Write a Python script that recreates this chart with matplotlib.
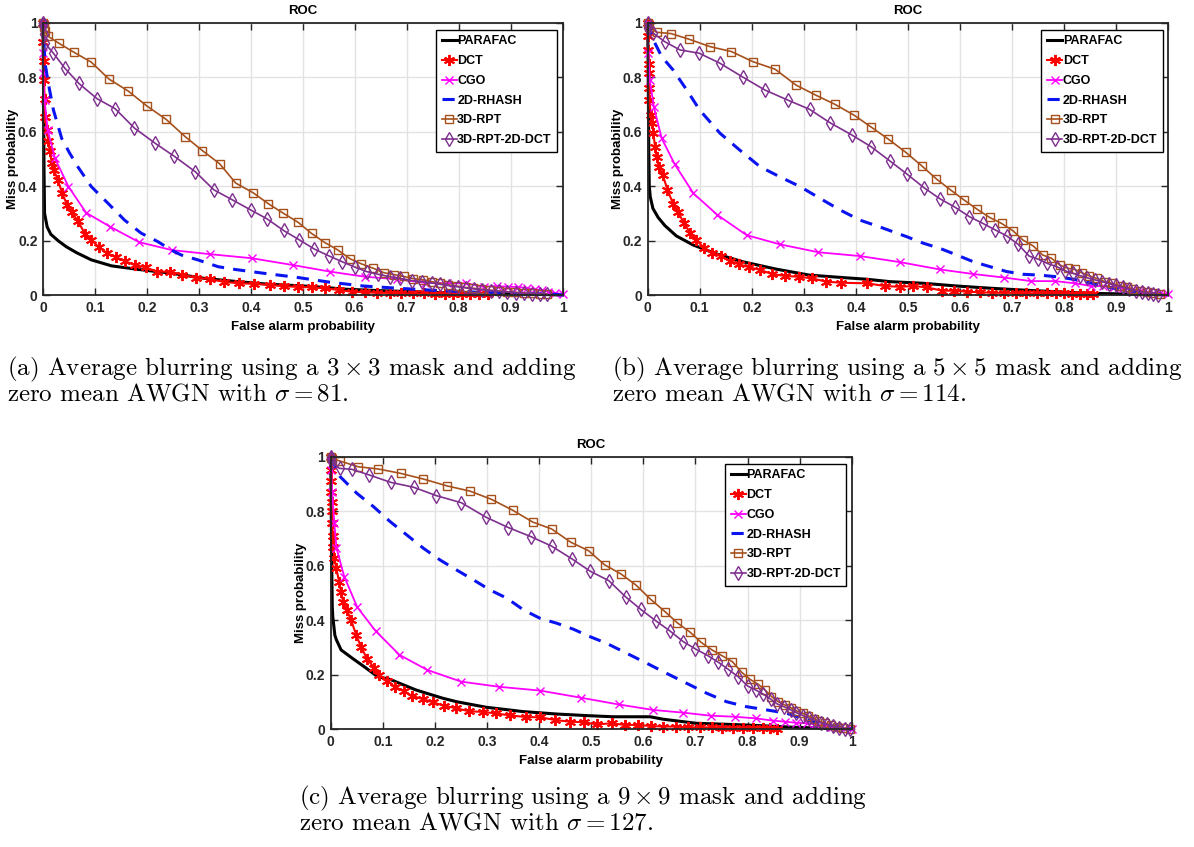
import matplotlib
matplotlib.use("Agg")
import matplotlib.pyplot as plt
from matplotlib.ticker import FixedLocator, FuncFormatter

plt.rcParams.update({
    "font.family": "Liberation Sans",
    "font.weight": "bold",
    "mathtext.fontset": "cm",
})

labels = ["PARAFAC", "DCT", "CGO", "2D-RHASH", "3D-RPT", "3D-RPT-2D-DCT"]
captions = [
    "(a) Average blurring using a $3\\times3$ mask and adding\nzero mean AWGN with $\\sigma=81$.",
    "(b) Average blurring using a $5\\times5$ mask and adding\nzero mean AWGN with $\\sigma=114$.",
    "(c) Average blurring using a $9\\times9$ mask and adding\nzero mean AWGN with $\\sigma=127$.",
]

# ---------------- panel (a): 3x3 mask, sigma = 81 ----------------
a_parafac = [(0, 1.0), (0.001, 0.75), (0.002, 0.45), (0.003, 0.30), (0.008, 0.25), (0.015, 0.223),
             (0.030, 0.198), (0.045, 0.177), (0.065, 0.155), (0.093, 0.129), (0.132, 0.107),
             (0.183, 0.094), (0.247, 0.080), (0.311, 0.061), (0.375, 0.049), (0.431, 0.040),
             (0.492, 0.034), (0.520, 0.031), (0.585, 0.021), (0.649, 0.016), (0.713, 0.012),
             (0.777, 0.008), (0.841, 0.006), (0.905, 0.004), (0.960, 0.002), (1.0, 0.0)]
a_dct = [(0.000, 1.000), (0.000, 0.930), (0.001, 0.860), (0.002, 0.790), (0.003, 0.720),
         (0.004, 0.655), (0.007, 0.606), (0.010, 0.565), (0.013, 0.528), (0.017, 0.484),
         (0.021, 0.459), (0.029, 0.421), (0.037, 0.373), (0.047, 0.329), (0.056, 0.303),
         (0.067, 0.272), (0.081, 0.224), (0.093, 0.202), (0.108, 0.175), (0.124, 0.153),
         (0.141, 0.138), (0.158, 0.124), (0.177, 0.110), (0.198, 0.101), (0.219, 0.086),
         (0.244, 0.085), (0.268, 0.075), (0.294, 0.063), (0.321, 0.059), (0.348, 0.048),
         (0.377, 0.043), (0.407, 0.041), (0.437, 0.037), (0.464, 0.032), (0.490, 0.030),
         (0.517, 0.028), (0.543, 0.025), (0.570, 0.018), (0.594, 0.012), (0.620, 0.010),
         (0.642, 0.008), (0.668, 0.008), (0.690, 0.006), (0.713, 0.006), (0.734, 0.006),
         (0.755, 0.004), (0.774, 0.004), (0.789, 0.004), (0.806, 0.004), (0.822, 0.004),
         (0.840, 0.004), (0.857, 0.004)]
a_cgo = [(0.000, 1.000), (0.000, 0.890), (0.000, 0.814), (0.003, 0.716), (0.009, 0.606),
         (0.023, 0.502), (0.049, 0.398), (0.083, 0.302), (0.129, 0.251), (0.185, 0.194),
         (0.248, 0.165), (0.321, 0.150), (0.402, 0.135), (0.481, 0.110), (0.552, 0.086),
         (0.620, 0.067), (0.682, 0.058), (0.735, 0.045), (0.777, 0.043), (0.815, 0.043),
         (0.848, 0.030), (0.873, 0.033), (0.896, 0.030), (0.915, 0.030), (0.931, 0.025),
         (0.947, 0.021), (0.960, 0.018), (0.973, 0.012), (0.986, 0.008), (1.000, 0.003)]
a_rhash = [(0, 1.0), (0.001, 0.95), (0.004, 0.85), (0.010, 0.78), (0.020, 0.68), (0.036, 0.575),
           (0.051, 0.522), (0.067, 0.471), (0.093, 0.398), (0.125, 0.337), (0.157, 0.275),
           (0.189, 0.227), (0.221, 0.196), (0.247, 0.165), (0.266, 0.147), (0.298, 0.129),
           (0.337, 0.104), (0.369, 0.094), (0.424, 0.080), (0.488, 0.065), (0.552, 0.047),
           (0.617, 0.033), (0.681, 0.025), (0.745, 0.018), (0.809, 0.012), (0.870, 0.008),
           (0.930, 0.005), (0.980, 0.003), (1.0, 0.0)]
a_rpt = [(0.000, 1.000), (0.001, 0.985), (0.003, 0.970), (0.009, 0.951), (0.031, 0.924),
         (0.059, 0.892), (0.093, 0.855), (0.127, 0.793), (0.164, 0.749), (0.200, 0.694),
         (0.237, 0.645), (0.274, 0.581), (0.307, 0.530), (0.340, 0.482), (0.371, 0.411),
         (0.404, 0.376), (0.434, 0.335), (0.462, 0.301), (0.491, 0.267), (0.517, 0.226),
         (0.543, 0.192), (0.567, 0.166), (0.591, 0.133), (0.612, 0.115), (0.636, 0.098),
         (0.656, 0.082), (0.676, 0.075), (0.695, 0.068), (0.713, 0.060), (0.731, 0.056),
         (0.748, 0.049), (0.764, 0.043), (0.780, 0.037), (0.796, 0.033), (0.812, 0.028),
         (0.828, 0.025), (0.844, 0.021), (0.860, 0.018), (0.877, 0.015), (0.893, 0.012),
         (0.909, 0.010), (0.925, 0.007), (0.941, 0.006), (0.957, 0.004), (0.970, 0.003)]
a_rpt_dct = [(0.000, 1.000), (0.000, 0.990), (0.001, 0.960), (0.004, 0.924), (0.020, 0.888),
             (0.042, 0.833), (0.069, 0.777), (0.104, 0.721), (0.139, 0.684), (0.176, 0.613),
             (0.216, 0.557), (0.253, 0.509), (0.293, 0.453), (0.329, 0.386), (0.364, 0.350),
             (0.400, 0.312), (0.431, 0.280), (0.463, 0.237), (0.493, 0.203), (0.522, 0.169),
             (0.551, 0.143), (0.576, 0.122), (0.601, 0.102), (0.623, 0.086), (0.645, 0.076),
             (0.668, 0.067), (0.687, 0.061), (0.710, 0.053), (0.729, 0.049), (0.748, 0.044),
             (0.765, 0.039), (0.782, 0.034), (0.798, 0.030), (0.814, 0.026), (0.830, 0.022),
             (0.846, 0.019), (0.862, 0.016), (0.878, 0.013), (0.894, 0.011), (0.910, 0.008),
             (0.926, 0.006), (0.942, 0.005), (0.956, 0.003), (0.970, 0.002)]

# ---------------- panel (b): 5x5 mask, sigma = 114 ----------------
b_parafac = [(0, 1.0), (0.001, 0.80), (0.002, 0.55), (0.003, 0.40), (0.005, 0.36), (0.010, 0.318),
             (0.020, 0.285), (0.033, 0.255), (0.055, 0.217), (0.087, 0.184), (0.132, 0.151),
             (0.183, 0.122), (0.247, 0.095), (0.311, 0.073), (0.375, 0.064), (0.420, 0.058),
             (0.466, 0.049), (0.530, 0.043), (0.594, 0.033), (0.658, 0.025), (0.722, 0.018),
             (0.786, 0.012), (0.850, 0.006), (0.914, 0.004), (0.960, 0.002), (1.0, 0.0)]
b_dct = [(0.000, 1.000), (0.000, 0.950), (0.001, 0.900), (0.002, 0.850), (0.003, 0.814),
         (0.003, 0.760), (0.003, 0.716), (0.006, 0.661), (0.009, 0.631), (0.011, 0.594),
         (0.014, 0.545), (0.017, 0.508), (0.021, 0.471), (0.029, 0.441), (0.038, 0.386),
         (0.049, 0.334), (0.058, 0.306), (0.070, 0.263), (0.082, 0.227), (0.093, 0.202),
         (0.108, 0.174), (0.124, 0.155), (0.140, 0.143), (0.158, 0.125), (0.175, 0.113),
         (0.195, 0.102), (0.216, 0.092), (0.239, 0.077), (0.264, 0.070), (0.291, 0.067),
         (0.316, 0.061), (0.343, 0.049), (0.372, 0.045), (0.421, 0.043), (0.456, 0.033),
         (0.485, 0.030), (0.510, 0.033), (0.537, 0.028), (0.565, 0.016), (0.589, 0.016),
         (0.614, 0.012), (0.639, 0.010), (0.661, 0.008), (0.685, 0.008), (0.707, 0.008),
         (0.728, 0.006), (0.748, 0.006), (0.767, 0.006), (0.784, 0.006), (0.800, 0.006),
         (0.815, 0.004), (0.830, 0.004), (0.844, 0.004), (0.856, 0.004)]
b_cgo = [(0.000, 1.000), (0.001, 0.888), (0.004, 0.790), (0.012, 0.689), (0.027, 0.575),
         (0.052, 0.480), (0.088, 0.373), (0.134, 0.294), (0.190, 0.220), (0.254, 0.186),
         (0.328, 0.157), (0.408, 0.143), (0.484, 0.121), (0.561, 0.094), (0.626, 0.077),
         (0.685, 0.064), (0.737, 0.051), (0.783, 0.051), (0.821, 0.043), (0.852, 0.033),
         (0.876, 0.033), (0.896, 0.028), (0.914, 0.025), (0.930, 0.018), (0.946, 0.016),
         (0.959, 0.012), (0.972, 0.008), (0.985, 0.006), (1.000, 0.004)]
b_rhash = [(0, 1.0), (0.011, 0.936), (0.027, 0.875), (0.049, 0.826), (0.075, 0.753),
           (0.100, 0.679), (0.139, 0.594), (0.177, 0.532), (0.216, 0.471), (0.254, 0.434),
           (0.293, 0.398), (0.331, 0.355), (0.370, 0.312), (0.408, 0.275), (0.446, 0.250),
           (0.498, 0.214), (0.530, 0.190), (0.562, 0.171), (0.594, 0.147), (0.626, 0.122),
           (0.658, 0.104), (0.690, 0.086), (0.722, 0.076), (0.754, 0.073), (0.786, 0.067),
           (0.818, 0.058), (0.850, 0.045), (0.882, 0.030), (0.914, 0.018), (0.946, 0.008),
           (0.978, 0.004), (1.0, 0.0)]
b_rpt = [(0.000, 1.000), (0.002, 0.985), (0.017, 0.965), (0.045, 0.960), (0.080, 0.939),
         (0.120, 0.912), (0.161, 0.894), (0.202, 0.857), (0.245, 0.829), (0.285, 0.771),
         (0.323, 0.734), (0.360, 0.700), (0.397, 0.660), (0.430, 0.616), (0.462, 0.573),
         (0.496, 0.524), (0.527, 0.474), (0.555, 0.426), (0.582, 0.386), (0.608, 0.349),
         (0.633, 0.315), (0.657, 0.285), (0.680, 0.263), (0.702, 0.236), (0.721, 0.202),
         (0.741, 0.180), (0.759, 0.147), (0.776, 0.135), (0.792, 0.110), (0.808, 0.098),
         (0.821, 0.094), (0.834, 0.082), (0.849, 0.070), (0.863, 0.061), (0.879, 0.049),
         (0.892, 0.043), (0.908, 0.034), (0.921, 0.028), (0.933, 0.021), (0.946, 0.015),
         (0.959, 0.011), (0.972, 0.006), (0.985, 0.004)]
b_rpt_dct = [(0.000, 1.000), (0.000, 0.980), (0.011, 0.961), (0.033, 0.930), (0.062, 0.900),
             (0.099, 0.888), (0.139, 0.851), (0.183, 0.800), (0.225, 0.753), (0.269, 0.716),
             (0.311, 0.682), (0.350, 0.633), (0.392, 0.588), (0.429, 0.545), (0.465, 0.493),
             (0.499, 0.443), (0.531, 0.394), (0.562, 0.353), (0.591, 0.322), (0.618, 0.288),
             (0.644, 0.263), (0.668, 0.239), (0.690, 0.217), (0.712, 0.186), (0.733, 0.143),
             (0.751, 0.131), (0.768, 0.116), (0.786, 0.104), (0.802, 0.089), (0.817, 0.080),
             (0.831, 0.071), (0.845, 0.063), (0.859, 0.056), (0.873, 0.049), (0.887, 0.042),
             (0.900, 0.035), (0.913, 0.028), (0.926, 0.022), (0.938, 0.016), (0.950, 0.011),
             (0.961, 0.006), (0.971, 0.002), (0.980, 0.000)]

# ---------------- panel (c): 9x9 mask, sigma = 127 ----------------
c_parafac = [(0, 1.0), (0.001, 0.80), (0.002, 0.60), (0.003, 0.45), (0.004, 0.413), (0.008, 0.345),
             (0.011, 0.328), (0.020, 0.291), (0.042, 0.260), (0.064, 0.230), (0.090, 0.193),
             (0.114, 0.183), (0.164, 0.144), (0.215, 0.114), (0.242, 0.101), (0.298, 0.081),
             (0.369, 0.065), (0.434, 0.056), (0.494, 0.050), (0.542, 0.046), (0.613, 0.046),
             (0.638, 0.037), (0.702, 0.022), (0.766, 0.018), (0.830, 0.013), (0.894, 0.007),
             (0.958, 0.004), (1.0, 0.0)]
c_dct = [(0.000, 1.000), (0.000, 0.950), (0.001, 0.910), (0.001, 0.870), (0.002, 0.835),
         (0.002, 0.800), (0.003, 0.755), (0.004, 0.710), (0.005, 0.670), (0.007, 0.627),
         (0.011, 0.590), (0.016, 0.541), (0.020, 0.502), (0.024, 0.466), (0.031, 0.438),
         (0.039, 0.401), (0.049, 0.346), (0.058, 0.303), (0.070, 0.258), (0.083, 0.226),
         (0.093, 0.199), (0.109, 0.177), (0.123, 0.156), (0.140, 0.140), (0.157, 0.122),
         (0.177, 0.111), (0.196, 0.099), (0.217, 0.087), (0.241, 0.077), (0.266, 0.066),
         (0.292, 0.064), (0.317, 0.058), (0.345, 0.051), (0.374, 0.045), (0.402, 0.044),
         (0.431, 0.034), (0.459, 0.028), (0.486, 0.026), (0.511, 0.018), (0.539, 0.022),
         (0.565, 0.016), (0.589, 0.016), (0.615, 0.012), (0.638, 0.010), (0.662, 0.010),
         (0.685, 0.007), (0.709, 0.007), (0.731, 0.007), (0.752, 0.004), (0.773, 0.004),
         (0.792, 0.004), (0.810, 0.004), (0.829, 0.004), (0.843, 0.004), (0.856, 0.001)]
c_cgo = [(0.000, 1.000), (0.001, 0.950), (0.003, 0.870), (0.007, 0.756), (0.011, 0.666),
         (0.026, 0.560), (0.051, 0.448), (0.086, 0.361), (0.132, 0.273), (0.185, 0.218),
         (0.250, 0.175), (0.323, 0.156), (0.402, 0.142), (0.480, 0.116), (0.553, 0.091),
         (0.619, 0.071), (0.677, 0.061), (0.729, 0.050), (0.776, 0.046), (0.816, 0.040),
         (0.848, 0.032), (0.872, 0.028), (0.893, 0.024), (0.914, 0.022), (0.930, 0.018),
         (0.946, 0.015), (0.962, 0.010), (0.978, 0.007), (1.000, 0.001)]
c_rhash = [(0, 1.0), (0.018, 0.927), (0.050, 0.866), (0.082, 0.817), (0.114, 0.762),
           (0.146, 0.713), (0.178, 0.664), (0.210, 0.621), (0.242, 0.584), (0.274, 0.548),
           (0.306, 0.511), (0.338, 0.481), (0.370, 0.438), (0.402, 0.407), (0.434, 0.389),
           (0.466, 0.367), (0.495, 0.342), (0.530, 0.315), (0.568, 0.279), (0.607, 0.242),
           (0.645, 0.205), (0.683, 0.169), (0.722, 0.132), (0.760, 0.101), (0.798, 0.083),
           (0.837, 0.071), (0.875, 0.059), (0.914, 0.034), (0.952, 0.016), (0.990, 0.006),
           (1.0, 0.0)]
c_rpt = [(0.000, 1.000), (0.000, 0.994), (0.018, 0.984), (0.053, 0.963), (0.091, 0.955),
         (0.134, 0.939), (0.178, 0.918), (0.223, 0.893), (0.267, 0.874), (0.308, 0.844),
         (0.349, 0.804), (0.388, 0.760), (0.424, 0.735), (0.461, 0.686), (0.495, 0.655),
         (0.526, 0.603), (0.557, 0.570), (0.586, 0.529), (0.614, 0.477), (0.642, 0.431),
         (0.665, 0.391), (0.690, 0.356), (0.711, 0.319), (0.732, 0.291), (0.752, 0.269),
         (0.771, 0.248), (0.789, 0.209), (0.805, 0.183), (0.820, 0.166), (0.834, 0.144),
         (0.846, 0.120), (0.859, 0.101), (0.872, 0.089), (0.883, 0.079), (0.894, 0.067),
         (0.906, 0.059), (0.917, 0.049), (0.928, 0.039), (0.938, 0.030), (0.949, 0.022),
         (0.960, 0.015), (0.971, 0.010), (0.984, 0.004), (0.997, 0.000)]
c_rpt_dct = [(0.000, 1.000), (0.000, 0.990), (0.002, 0.980), (0.017, 0.957), (0.040, 0.954),
             (0.074, 0.933), (0.115, 0.906), (0.159, 0.888), (0.203, 0.857), (0.251, 0.831),
             (0.298, 0.778), (0.341, 0.740), (0.384, 0.707), (0.424, 0.672), (0.464, 0.624),
             (0.498, 0.580), (0.534, 0.545), (0.566, 0.486), (0.595, 0.440), (0.624, 0.398),
             (0.651, 0.361), (0.677, 0.321), (0.700, 0.295), (0.724, 0.270), (0.744, 0.246),
             (0.763, 0.220), (0.782, 0.193), (0.800, 0.159), (0.816, 0.144), (0.830, 0.129),
             (0.845, 0.110), (0.857, 0.093), (0.870, 0.083), (0.883, 0.071), (0.894, 0.061),
             (0.907, 0.050), (0.919, 0.040), (0.930, 0.032), (0.941, 0.024), (0.952, 0.018),
             (0.964, 0.012), (0.975, 0.006), (0.988, 0.000), (0.997, 0.000)]

panels = [
    [a_parafac, a_dct, a_cgo, a_rhash, a_rpt, a_rpt_dct],
    [b_parafac, b_dct, b_cgo, b_rhash, b_rpt, b_rpt_dct],
    [c_parafac, c_dct, c_cgo, c_rhash, c_rpt, c_rpt_dct],
]

# line styles per method (same order as labels); DCT uses a MATLAB-like asterisk
styles = [
    dict(color="black", lw=2.2, ls="-"),
    dict(color="#FF0000", lw=1.5, ls="-", marker=(6, 2, 0), ms=8, mew=1.4),
    dict(color="#FF00FF", lw=1.3, ls="-", marker="x", ms=6, mew=1.0),
    dict(color="#0A14F0", lw=2.2, ls=(0, (4, 3))),
    dict(color="#A6501C", lw=1.2, ls="-", marker="s", ms=5.5, mfc="none", mew=1.0),
    dict(color="#7E2F8E", lw=1.2, ls="-", marker="d", ms=7, mfc="none", mew=1.0),
]

# axes rectangles in figure fractions (1194 x 847 px)
rects = [
    [43 / 1194, 1 - 295 / 847, 519.5 / 1194, 272.3 / 847],
    [647.7 / 1194, 1 - 295 / 847, 520.3 / 1194, 272.3 / 847],
    [330.7 / 1194, 1 - 729.3 / 847, 521 / 1194, 272.6 / 847],
]
caption_pos = [(7, 380), (612, 380), (299, 809.5)]

fig = plt.figure(figsize=(11.94, 8.47), dpi=100)
fig.patch.set_facecolor("white")

fmt = FuncFormatter(lambda v, p: "0" if abs(v) < 1e-9 else ("1" if abs(v - 1) < 1e-9 else f"{v:.1f}"))

for rect, series, cap, cpos in zip(rects, panels, captions, caption_pos):
    ax = fig.add_axes(rect)
    for pts, lab, st in zip(series, labels, styles):
        xs = [p[0] for p in pts]
        ys = [p[1] for p in pts]
        ax.plot(xs, ys, label=lab, clip_on=False, **st)
    ax.set_xlim(0, 1)
    ax.set_ylim(0, 1)
    ax.xaxis.set_major_locator(FixedLocator([i / 10 for i in range(11)]))
    ax.yaxis.set_major_locator(FixedLocator([i / 5 for i in range(6)]))
    ax.xaxis.set_major_formatter(fmt)
    ax.yaxis.set_major_formatter(fmt)
    ax.grid(True, color="#e3e3e3", lw=1.0)
    ax.set_axisbelow(True)
    ax.tick_params(direction="in", length=5, width=1.0, top=True, right=True,
                   labelsize=10, pad=4, colors="#262626")
    for lab in ax.get_xticklabels() + ax.get_yticklabels():
        lab.set_fontweight("bold")
    for sp in ax.spines.values():
        sp.set_linewidth(1.3)
        sp.set_color("#262626")
    ax.set_title("ROC", fontsize=9.5, fontweight="bold", pad=6)
    ax.set_xlabel("False alarm probability", fontsize=9.5, fontweight="bold")
    ax.set_ylabel("Miss probability", fontsize=9.5, fontweight="bold")
    ax.xaxis.set_label_coords(0.5, -0.095)
    ax.yaxis.set_label_coords(-0.046, 0.5)
    leg = ax.legend(loc="upper right", bbox_to_anchor=(0.99, 0.974), fontsize=9,
                    handlelength=1.2, handletextpad=0.05, borderpad=0.45, labelspacing=0.62,
                    fancybox=False, framealpha=1, edgecolor="black", borderaxespad=0)
    leg.get_frame().set_linewidth(1.0)
    for t in leg.get_texts():
        t.set_fontweight("bold")
    fig.text(cpos[0] / 1194, 1 - cpos[1] / 847, cap, family="cmr10", fontsize=18,
             va="center", ha="left", linespacing=0.95)

fig.savefig("out.png", dpi=100, facecolor="white")
